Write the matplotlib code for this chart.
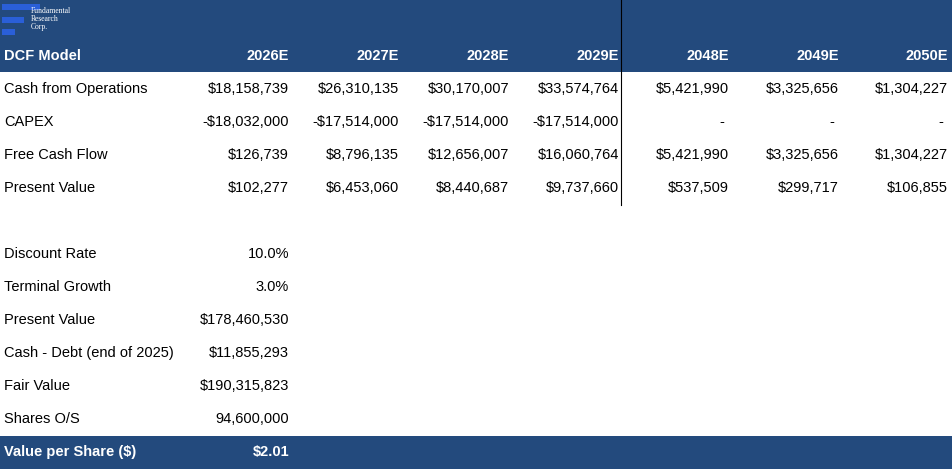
import matplotlib.pyplot as plt
from matplotlib.patches import Rectangle

# 数据
years = ["2026E", "2027E", "2028E", "2029E", "2048E", "2049E", "2050E"]
row_names = ["Cash from Operations", "CAPEX", "Free Cash Flow", "Present Value"]
cfo = ["$18,158,739", "$26,310,135", "$30,170,007", "$33,574,764", "$5,421,990", "$3,325,656", "$1,304,227"]
capex = ["-$18,032,000", "-$17,514,000", "-$17,514,000", "-$17,514,000", "-", "-", "-"]
fcf = ["$126,739", "$8,796,135", "$12,656,007", "$16,060,764", "$5,421,990", "$3,325,656", "$1,304,227"]
pv = ["$102,277", "$6,453,060", "$8,440,687", "$9,737,660", "$537,509", "$299,717", "$106,855"]
sum_labels = ["Discount Rate", "Terminal Growth", "Present Value", "Cash - Debt (end of 2025)",
              "Fair Value", "Shares O/S"]
sum_values = ["10.0%", "3.0%", "$178,460,530", "$11,855,293", "$190,315,823", "94,600,000"]
final_label = "Value per Share ($)"
final_value = "$2.01"

navy = "#234a7d"
W, H = 952, 469
fig = plt.figure(figsize=(W / 100, H / 100), dpi=100)
ax = fig.add_axes([0, 0, 1, 1])
ax.set_xlim(0, W)
ax.set_ylim(H, 0)
ax.axis("off")

# 表头
ax.add_patch(Rectangle((0, 0), W, 72, color=navy, lw=0))
# logo
for y0, w in [(4, 38), (17, 22), (29, 13)]:
    ax.add_patch(Rectangle((2, y0), w, 6, color="#2a5fd8", lw=0))
ax.text(31, 19, "Fundamental\nResearch\nCorp.", color="white", fontsize=5.5,
        family="Liberation Serif", va="center", ha="left", linespacing=0.95)

ax.text(4, 56, "DCF Model", color="white", fontsize=10.5, fontweight="bold",
        family="Liberation Sans", va="center")
col_x = [289, 399, 509, 619, 729, 839, 948]
for x, yr in zip(col_x, years):
    ax.text(x, 56, yr, color="white", fontsize=10.5, fontweight="bold",
            family="Liberation Sans", va="center", ha="right")

rows = [cfo, capex, fcf, pv]
for i, (name, vals) in enumerate(zip(row_names, rows)):
    y = 89 + i * 33
    ax.text(4, y, name, fontsize=10.5, family="Liberation Sans", va="center")
    for j, (x, v) in enumerate(zip(col_x, vals)):
        xx = x - 5 if (v == "-" and j >= 4) else x
        ax.text(xx, y, v, fontsize=10.5, family="Liberation Sans", va="center", ha="right")

ax.plot([621, 621], [0, 205], color="black", lw=0.8)

for i, (lab, v) in enumerate(zip(sum_labels, sum_values)):
    y = 254 + i * 33
    ax.text(4, y, lab, fontsize=10.5, family="Liberation Sans", va="center")
    ax.text(289, y, v, fontsize=10.5, family="Liberation Sans", va="center", ha="right")

ax.add_patch(Rectangle((0, 436), W, H - 436, color=navy, lw=0))
ax.text(4, 452, final_label, color="white", fontsize=10.5, fontweight="bold",
        family="Liberation Sans", va="center")
ax.text(289, 452, final_value, color="white", fontsize=10.5, fontweight="bold",
        family="Liberation Sans", va="center", ha="right")

fig.savefig("out.png", dpi=100)
